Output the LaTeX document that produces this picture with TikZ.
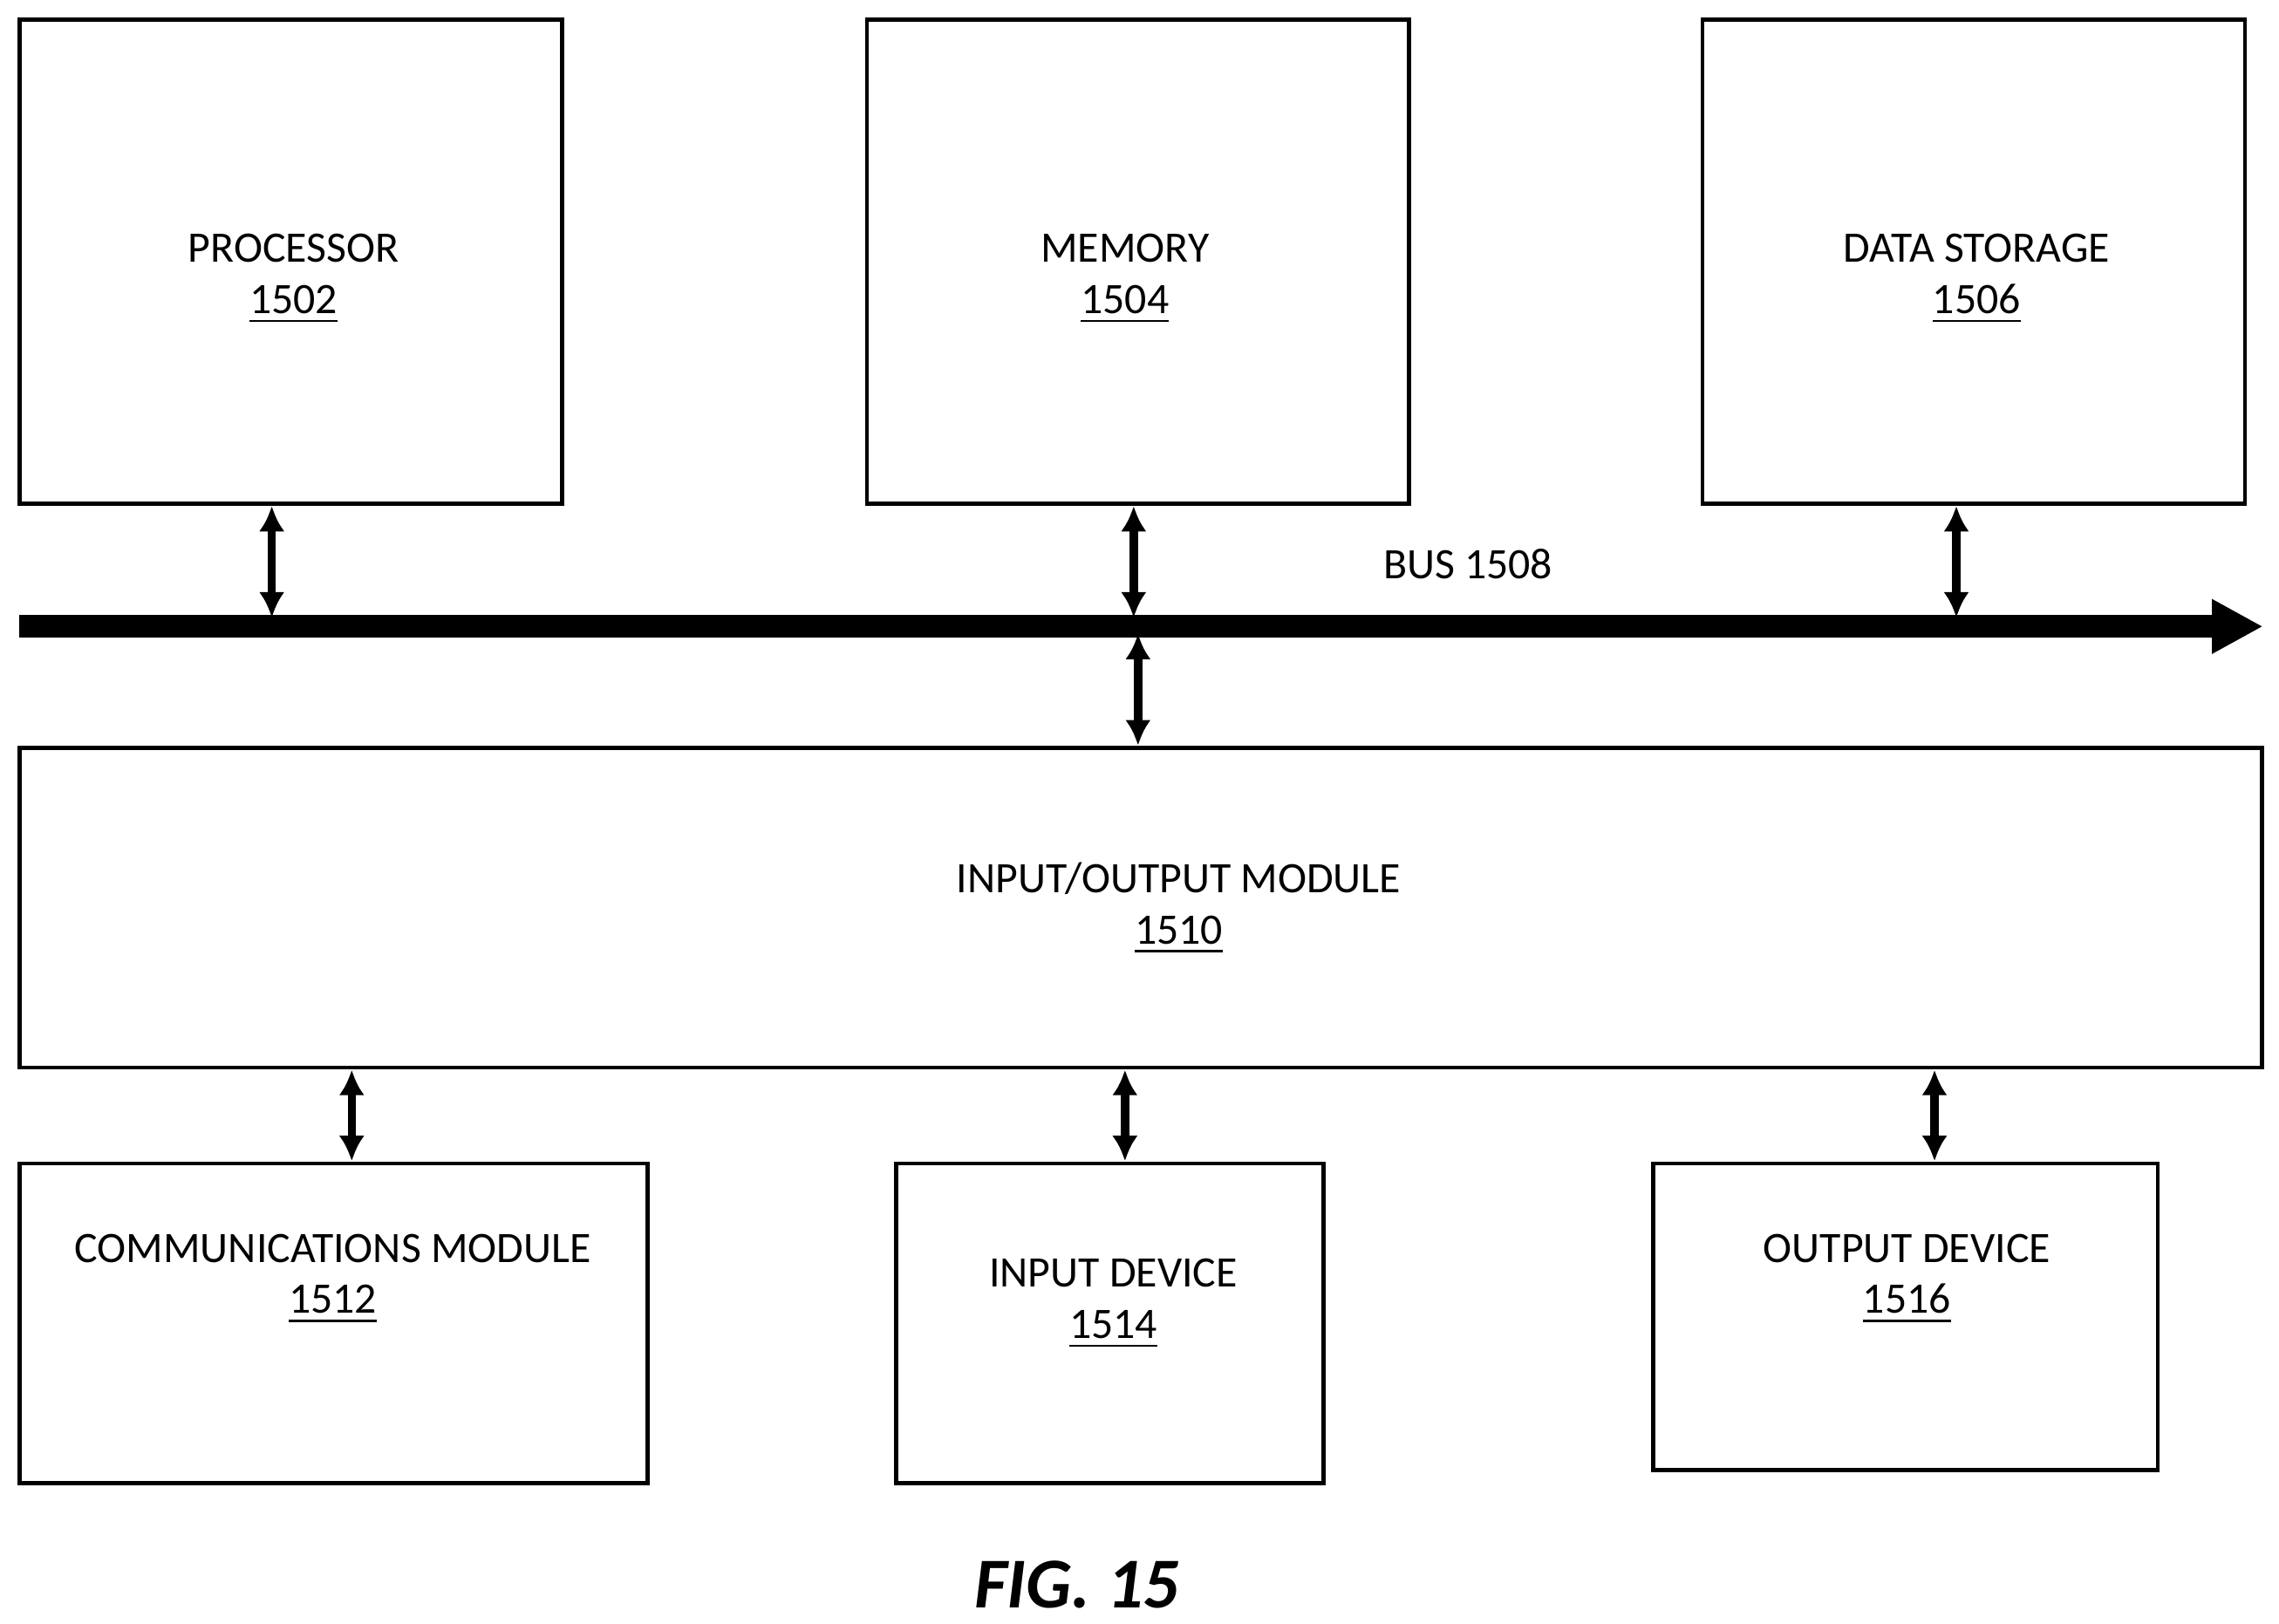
\documentclass[tikz,border=0pt]{standalone}
\usepackage{fontspec}
\setmainfont{Carlito}
\usetikzlibrary{arrows.meta}
\begin{document}
\begin{tikzpicture}[x=0.01cm,y=-0.01cm,
  box/.style={draw, thick, anchor=north west, inner sep=0pt},
  lbl/.style={font=\fontsize{8.5}{10}\selectfont, align=center},
  link/.style={{Latex[length=5pt,width=5pt]}-{Latex[length=5pt,width=5pt]}, line width=1.6pt}]
\useasboundingbox (0,0) rectangle (1568,1117);
\node[box, minimum width=3.73cm, minimum height=3.33cm] (proc) at (12,12) {};
\node[box, minimum width=3.73cm, minimum height=3.33cm] (mem) at (595,12) {};
\node[box, minimum width=3.73cm, minimum height=3.33cm] (stor) at (1170,12) {};
\node[box, minimum width=15.42cm, minimum height=2.2cm] (io) at (12,513) {};
\node[box, minimum width=4.32cm, minimum height=2.2cm] (comm) at (12,799) {};
\node[box, minimum width=2.94cm, minimum height=2.2cm] (inp) at (615,799) {};
\node[box, minimum width=3.47cm, minimum height=2.11cm] (outp) at (1136,799) {};
\node[lbl] at (202,192) {PROCESSOR\\\underline{1502}};
\node[lbl] at (774,192) {MEMORY\\\underline{1504}};
\node[lbl] at (1360,192) {DATA STORAGE\\\underline{1506}};
\node[lbl] at (811,625) {INPUT/OUTPUT MODULE\\\underline{1510}};
\node[lbl] at (229,880) {COMMUNICATIONS MODULE\\\underline{1512}};
\node[lbl] at (766,897) {INPUT DEVICE\\\underline{1514}};
\node[lbl] at (1312,880) {OUTPUT DEVICE\\\underline{1516}};
% bus
\coordinate (busL) at (13,431);
\coordinate (busR) at (1557,431);
\draw[line width=4.5pt, -{Triangle[length=10pt,width=10pt]}] (busL) -- (busR);
\node[lbl] (bus) at (1010,388) {BUS 1508};
% links
\draw[link] (proc.south -| 187,0) -- (187,425);
\draw[link] (mem.south -| 780,0) -- (780,425);
\draw[link] (stor.south -| 1346,0) -- (1346,425);
\draw[link] (783,436) -- (io.north -| 783,0);
\draw[link] (io.south -| 242,0) -- (comm.north -| 242,0);
\draw[link] (io.south -| 774,0) -- (inp.north -| 774,0);
\draw[link] (io.south -| 1331,0) -- (outp.north -| 1331,0);
\node[font=\fontsize{14}{16}\selectfont\bfseries\itshape] (fig) at (741,1090) {FIG. 15};
\end{tikzpicture}
\end{document}
